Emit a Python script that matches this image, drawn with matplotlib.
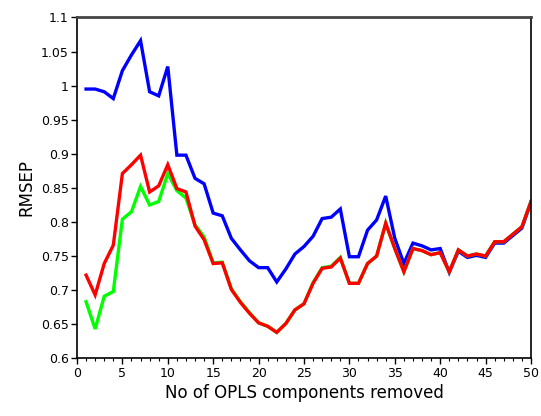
import matplotlib
matplotlib.use("Agg")
import matplotlib.pyplot as plt
from matplotlib.ticker import MultipleLocator, FuncFormatter

n_removed = list(range(1, 51))

rmsep_blue = [0.995, 0.995, 0.991, 0.981, 1.022, 1.045, 1.066, 0.991, 0.985, 1.028,
              0.898, 0.898, 0.864, 0.856, 0.813, 0.809, 0.776, 0.759, 0.743, 0.733,
              0.733, 0.712, 0.731, 0.753, 0.764, 0.779, 0.805, 0.807, 0.819, 0.749,
              0.749, 0.788, 0.803, 0.838, 0.776, 0.739, 0.769, 0.765, 0.759, 0.761,
              0.726, 0.757, 0.748, 0.751, 0.748, 0.769, 0.769, 0.780, 0.791, 0.829]

rmsep_green = [0.683, 0.643, 0.691, 0.698, 0.804, 0.815, 0.852, 0.825, 0.830, 0.871,
               0.846, 0.835, 0.796, 0.778, 0.740, 0.741, 0.702, 0.683, 0.667, 0.652,
               0.647, 0.638, 0.651, 0.671, 0.680, 0.711, 0.733, 0.735, 0.748, 0.710,
               0.710, 0.739, 0.750, 0.798, 0.761, 0.727, 0.761, 0.758, 0.752, 0.755,
               0.727, 0.759, 0.750, 0.753, 0.750, 0.771, 0.771, 0.782, 0.793, 0.830]

rmsep_red = [0.722, 0.693, 0.739, 0.766, 0.871, 0.884, 0.898, 0.844, 0.853, 0.884,
             0.849, 0.844, 0.794, 0.774, 0.739, 0.740, 0.701, 0.682, 0.666, 0.652,
             0.647, 0.638, 0.651, 0.671, 0.680, 0.710, 0.732, 0.734, 0.747, 0.710,
             0.710, 0.739, 0.750, 0.798, 0.761, 0.727, 0.761, 0.758, 0.752, 0.755,
             0.727, 0.759, 0.750, 0.753, 0.750, 0.771, 0.771, 0.782, 0.793, 0.830]

fig = plt.figure(figsize=(5.41, 4.16), dpi=100)
ax = fig.add_axes([0.1423, 0.1387, 0.8392, 0.8193])

lw = 2.4
ax.plot(n_removed, rmsep_blue, color="#0000ff", lw=lw, solid_joinstyle="miter")
ax.plot(n_removed, rmsep_green, color="#00ff00", lw=lw, solid_joinstyle="miter")
ax.plot(n_removed, rmsep_red, color="#ff0000", lw=lw, solid_joinstyle="miter")

ax.set_xlim(0, 50)
ax.set_ylim(0.6, 1.1)
ax.xaxis.set_major_locator(MultipleLocator(5))
ax.xaxis.set_minor_locator(MultipleLocator(1))
ax.yaxis.set_major_locator(MultipleLocator(0.05))
ax.yaxis.set_major_formatter(FuncFormatter(lambda v, p: f"{v:.2f}".rstrip("0").rstrip(".")))

ax.tick_params(axis="both", which="major", direction="out", length=4, width=1,
               labelsize=9, pad=2)
ax.tick_params(axis="x", which="minor", direction="out", length=2.5, width=0.8)

for side in ["left", "bottom", "right"]:
    ax.spines[side].set_linewidth(1.2)
    ax.spines[side].set_color("black")
ax.spines["top"].set_linewidth(2)
ax.spines["top"].set_color("#444444")

ax.set_xlabel("No of OPLS components removed", fontsize=12, labelpad=3)
ax.set_ylabel("RMSEP", fontsize=12, labelpad=4)

fig.savefig("out.png", dpi=100)
